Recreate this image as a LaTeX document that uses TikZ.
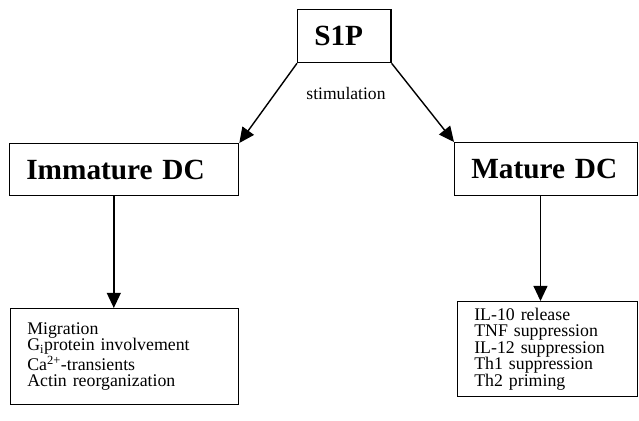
\documentclass[tikz,border=0pt]{standalone}
\usepackage{fontspec}
\setmainfont{Liberation Serif}
\usetikzlibrary{arrows.meta}

\begin{document}
\begin{tikzpicture}[x=0.03cm, y=-0.03cm,
  cell/.style={rectangle, draw, line width=1.1pt, anchor=north west,
               inner xsep=0.5cm, inner ysep=0pt, align=left},
  title/.style={cell, font=\fontsize{25}{28}\selectfont\bfseries},
  effects/.style={cell, font=\fontsize{15.2}{14.1}\selectfont},
  arr/.style={line width=1.2pt, -{Triangle[length=13pt, width=12pt]}},
  lab/.style={font=\fontsize{15}{17}\selectfont},
]
\useasboundingbox (0,0) rectangle (639,421);
% ---- top: S1P and the two DC states
\node[title, text width=1.8cm, minimum height=1.59cm] (s1p) at (297,9) {S1P};
\node[title, text width=5.87cm, minimum height=1.56cm] (imm) at (9,143) {Immature DC};
\node[title, text width=4.49cm, minimum height=1.59cm] (mat) at (454,142) {Mature DC};
\node[lab] (stim) at (346,93) {stimulation};
\draw[arr] (s1p.south west) -- (imm.north east);
\draw[arr] (s1p.south east) -- (mat.north west);
% ---- bottom: effects of S1P on each state
\node[effects, text width=5.84cm, minimum height=2.88cm] (immfx) at (10,308)
  {Migration\\G\textsubscript{i}protein involvement\\Ca\textsuperscript{2+}-transients\\Actin reorganization};
\node[effects, text width=4.4cm, minimum height=2.85cm] (matfx) at (457,301)
  {IL-10 release\\TNF suppression\\IL-12 suppression\\Th1 suppression\\Th2 priming};
\draw[arr] ([xshift=-0.31cm]imm.south) -- ([xshift=-0.31cm]imm.south |- immfx.north);
\draw[arr] ([xshift=-0.17cm]mat.south) -- ([xshift=-0.17cm]mat.south |- matfx.north);
\end{tikzpicture}
\end{document}
